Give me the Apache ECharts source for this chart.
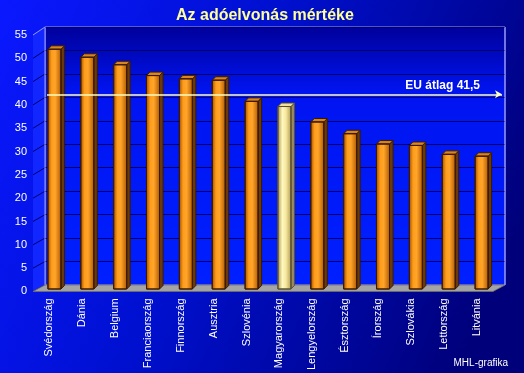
<!DOCTYPE html>
<html><head><meta charset="utf-8">
<script src="https://cdn.jsdelivr.net/npm/echarts@6/dist/echarts.min.js"></script>
<style>html,body{margin:0;padding:0;background:#000080}#c{width:524px;height:373px}</style>
</head><body><div id="c"></div>
<script>
var titleText = 'Az adóelvonás mértéke';
var categories = ['Svédország','Dánia','Belgium','Franciaország','Finnország','Ausztria','Szlovénia','Magyarország','Lengyelország','Észtország','Írország','Szlovákia','Lettország','Litvánia'];
var values = [51.1, 49.4, 47.8, 45.5, 44.8, 44.5, 40.0, 38.9, 35.6, 33.1, 30.9, 30.6, 28.7, 28.3];
var highlight = 'Magyarország';
var euAverage = 41.5;
var euLabel = 'EU átlag 41,5';
var yTicks = [0,5,10,15,20,25,30,35,40,45,50,55];
var credit = 'MHL-grafika';

var FONT = '"Liberation Sans", Arial, sans-serif';
var chart = echarts.init(document.getElementById('c'), null, {renderer:'canvas'});

function grad(stops){
  return new echarts.graphic.LinearGradient(0,0,1,0, stops.map(function(s){return {offset:s[0], color:s[1]};}));
}
var orangeFront = grad([[0,'#9a4a00'],[0.3,'#ff9d1a'],[0.55,'#ffa52a'],[1,'#b05800']]);
var yellowFront = grad([[0,'#a08a40'],[0.35,'#fff8c0'],[0.6,'#f8e8a0'],[1,'#b09a50']]);

function renderBar(params, api){
  var idx = api.value(0), v = api.value(1);
  var top = api.coord([idx, v]);
  var base = api.coord([idx, 0]);
  var c = top[0];
  var fl = c - 7.5, fr = c + 5.5, dx = 3.5, dy = 3.5;
  var hi = categories[idx] === highlight;
  var frontFill = hi ? yellowFront : orangeFront;
  var sideFill = hi ? '#9a8a60' : '#6a3a0c';
  var topFill = hi ? '#efe0a0' : '#d98420';
  var edge = hi ? '#5a5030' : '#3a1a00';
  return {type:'group', children:[
    {type:'polygon', shape:{points:[[fr,top[1]],[fr+dx,top[1]-dy],[fr+dx,base[1]-dy],[fr,base[1]]]}, style:{fill:sideFill, stroke:edge, lineWidth:1}},
    {type:'polygon', shape:{points:[[fl,top[1]],[fl+dx,top[1]-dy],[fr+dx,top[1]-dy],[fr,top[1]]]}, style:{fill:topFill, stroke:edge, lineWidth:1}},
    {type:'rect', shape:{x:fl, y:top[1], width:fr-fl, height:base[1]-top[1]}, style:{fill:frontFill, stroke:edge, lineWidth:1}}
  ]};
}

var option = {
  backgroundColor: new echarts.graphic.LinearGradient(0,0,1,0.6,[{offset:0,color:'#0a18ff'},{offset:0.45,color:'#0010d0'},{offset:1,color:'#00007a'}]),
  animation:false,
  title:{text:titleText, top:3, left:171, textStyle:{color:'#ffff99', fontFamily:FONT, fontSize:16, fontWeight:'bold'}},
  grid:[
    {left:39, right:25, top:31, bottom:84},
    {left:33, right:31, top:35, bottom:80},
    {left:45, right:19, top:27, bottom:88, show:true, z:0,
      backgroundColor: new echarts.graphic.LinearGradient(0,0,0,1,[{offset:0,color:'#00009a'},{offset:0.25,color:'#0014f0'},{offset:1,color:'#0020ff'}]),
      borderColor:'#9a9aff', borderWidth:1}
  ],
  xAxis:[
    {gridIndex:0, type:'category', data:categories, show:false},
    {gridIndex:1, type:'category', data:categories, axisLine:{show:false}, axisTick:{show:false},
      axisLabel:{rotate:90, color:'#ffffff', fontFamily:FONT, fontSize:11, margin:7, interval:0}},
    {gridIndex:2, type:'category', data:categories, show:false}
  ],
  yAxis:[
    {gridIndex:0, type:'value', min:0, max:55, interval:5, show:false},
    {gridIndex:1, type:'value', min:0, max:55, interval:5, axisLine:{show:false}, axisTick:{show:false}, splitLine:{show:false},
      axisLabel:{color:'#ffffff', fontFamily:FONT, fontSize:11, margin:6}},
    {gridIndex:2, type:'value', min:0, max:55, interval:5, axisLine:{show:false}, axisTick:{show:false}, axisLabel:{show:false},
      splitLine:{show:true, lineStyle:{color:'#00006a', width:1}}}
  ],
  series:[
    {type:'custom', xAxisIndex:0, yAxisIndex:0, z:5,
      data: values.map(function(v,i){return [i,v];}),
      renderItem: renderBar}
  ]
};
chart.setOption(option);

var yEU = chart.convertToPixel({yAxisIndex:0}, euAverage);
chart.setOption({series:[{
  markLine:{silent:true, symbol:['none','arrow'], symbolSize:[6,7],
    lineStyle:{color:'#ffffc0', width:1.5, type:'solid'},
    label:{show:true, formatter:euLabel, position:'insideEndTop', color:'#ffffff', fontFamily:FONT, fontSize:12, fontWeight:'bold', distance:[22,3]},
    data:[[{x:47, y:yEU},{x:502, y:yEU}]]}
}]});

// decorative walls/floor derived from the axis scales
var g = [];
var f0 = chart.convertToPixel({xAxisIndex:1, yAxisIndex:1}, [0,0]);
var b0 = chart.convertToPixel({xAxisIndex:2, yAxisIndex:2}, [0,0]);
var fTop = chart.convertToPixel({yAxisIndex:1}, 55);
var bTop = chart.convertToPixel({yAxisIndex:2}, 55);
var fLeft = 33, bLeft = 45, bRight = 505, fRight = 493;
g.push({type:'polygon', z:1, shape:{points:[[fLeft,fTop],[bLeft,bTop],[bLeft,b0[1]],[fLeft,f0[1]]]}, style:{fill:'#1226ff', stroke:null}});
yTicks.forEach(function(t){
  var yf = chart.convertToPixel({yAxisIndex:1}, t);
  var yb = chart.convertToPixel({yAxisIndex:2}, t);
  g.push({type:'line', z:2, shape:{x1:fLeft, y1:yf, x2:bLeft, y2:yb}, style:{stroke: t===55 ? '#9a9aff' : '#00006a', lineWidth:1}});
});
g.push({type:'line', z:2, shape:{x1:bLeft, y1:bTop, x2:bLeft, y2:b0[1]}, style:{stroke:'#9a9aff', lineWidth:1}});
g.push({type:'polygon', z:2, shape:{points:[[fLeft,f0[1]],[bLeft,b0[1]],[bRight,b0[1]],[fRight,f0[1]]]}, style:{fill:'#a4a4a4', stroke:'#707070', lineWidth:0.8}});
g.push({type:'line', z:2, shape:{x1:bRight, y1:bTop, x2:bRight, y2:b0[1]}, style:{stroke:'#9a9aff', lineWidth:1}});
g.push({type:'text', z:3, right:16, bottom:5, style:{text:credit, fill:'#ffffff', font:'10px ' + FONT}});
chart.setOption({graphic:g});
</script></body></html>
